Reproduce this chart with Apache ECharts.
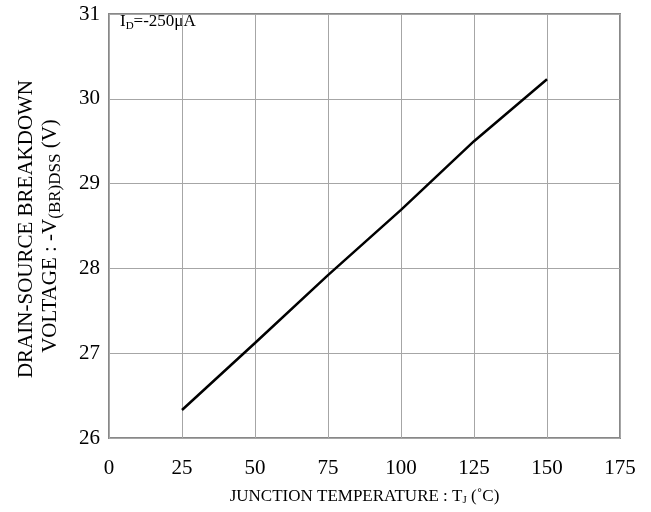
<!DOCTYPE html>
<html>
<head>
<meta charset="utf-8">
<script src="https://cdn.jsdelivr.net/npm/echarts@6/dist/echarts.min.js"></script>
<style>
  html, body { margin: 0; padding: 0; background: #fff; }
  #chart { width: 651px; height: 512px; }
</style>
</head>
<body>
<div id="chart"></div>
<script>
// Junction temperature (°C) and drain-source breakdown voltage (V)
const temperatures = [25, 50, 75, 100, 125, 150];
const breakdownVoltage = [26.33, 27.12, 27.92, 28.69, 29.50, 30.23];
const xTicks = [0, 25, 50, 75, 100, 125, 150, 175];
const yTicks = [26, 27, 28, 29, 30, 31];

const FONT = '"Liberation Serif", "Times New Roman", serif';
const chart = echarts.init(document.getElementById('chart'));

const points = temperatures.map((t, i) => [t, breakdownVoltage[i]]);

chart.setOption({
  animation: false,
  backgroundColor: '#ffffff',
  grid: {
    left: 109, right: 31, top: 14, bottom: 74,
    show: true, borderColor: '#888888', borderWidth: 2
  },
  xAxis: {
    type: 'value',
    min: xTicks[0], max: xTicks[xTicks.length - 1], interval: 25,
    axisLine: { show: false },
    axisTick: { show: false },
    axisLabel: { color: '#000', fontFamily: FONT, fontSize: 21, margin: 20 },
    splitLine: { show: true, lineStyle: { color: '#a6a6a6', width: 1 } },
    name: 'JUNCTION TEMPERATURE : T{s|J} (˚C)',
    nameLocation: 'middle',
    nameGap: 50,
    nameTextStyle: {
      color: '#000', fontFamily: FONT, fontSize: 17,
      rich: { s: { fontSize: 11, fontFamily: FONT, color: '#000', padding: [7, 0, 0, 0] } }
    }
  },
  yAxis: {
    type: 'value',
    min: yTicks[0], max: yTicks[yTicks.length - 1], interval: 1,
    axisLine: { show: false },
    axisTick: { show: false },
    axisLabel: { color: '#000', fontFamily: FONT, fontSize: 21, margin: 9 },
    splitLine: { show: true, lineStyle: { color: '#a6a6a6', width: 1 } }
  },
  graphic: [
    {
      type: 'text',
      x: 26, y: 229,
      rotation: Math.PI / 2,
      style: {
        text: 'DRAIN-SOURCE BREAKDOWN',
        font: '21px ' + FONT,
        fill: '#000',
        align: 'center',
        verticalAlign: 'middle'
      }
    },
    {
      type: 'text',
      x: 50, y: 236,
      rotation: Math.PI / 2,
      style: {
        text: '{n|VOLTAGE : -V}{s|(BR)DSS}{n| (V)}',
        fill: '#000',
        align: 'center',
        verticalAlign: 'middle',
        rich: {
          n: { fontSize: 21, fontFamily: FONT, fill: '#000' },
          s: { fontSize: 17, fontFamily: FONT, fill: '#000', padding: [11, 0, 0, 0] }
        }
      }
    },
    {
      type: 'text',
      x: 120, y: 22,
      style: {
        text: '{n|I}{s|D}{n|=-250μA}',
        fill: '#000',
        align: 'left',
        verticalAlign: 'middle',
        rich: {
          n: { fontSize: 17, fontFamily: FONT, fill: '#000' },
          s: { fontSize: 11, fontFamily: FONT, fill: '#000', padding: [8, 0, 0, 0] }
        }
      }
    }
  ],
  series: [
    {
      type: 'line',
      data: points,
      symbol: 'none',
      smooth: false,
      lineStyle: { color: '#000', width: 2.5 }
    }
  ]
});
</script>
</body>
</html>
